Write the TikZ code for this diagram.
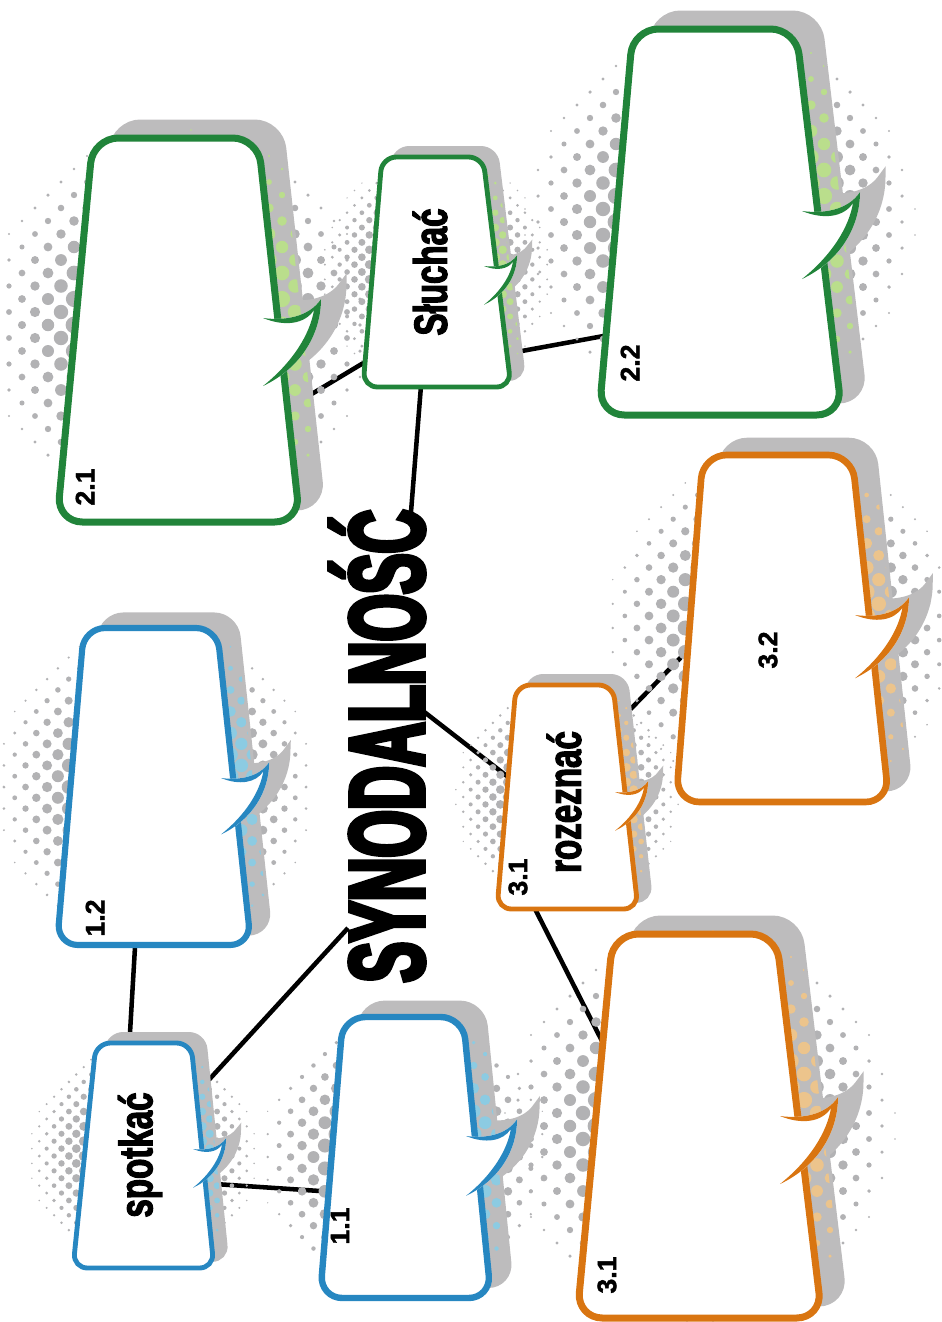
\documentclass[tikz,border=0pt]{standalone}
\usepackage{fontspec}
\setmainfont{Liberation Sans}
\newfontfamily\titlefont{Liberation Sans}[FakeStretch=0.57,FakeBold=4]
\newfontfamily\wordfont{Liberation Sans}[FakeStretch=0.71,FakeBold=2.5]
\newfontfamily\numfont{Liberation Sans}[FakeBold=1.5]

\definecolor{sgreen}{RGB}{33,132,58}
\definecolor{sblue}{RGB}{39,135,193}
\definecolor{sorange}{RGB}{217,117,17}
\definecolor{sgrey}{RGB}{189,188,189}
\definecolor{dgrey}{RGB}{178,178,180}
\definecolor{tgreen}{RGB}{186,222,140}
\definecolor{tblue}{RGB}{140,203,226}
\definecolor{torange}{RGB}{236,196,140}

\pgfdeclarelayer{lines}
\pgfdeclarelayer{dots}
\pgfdeclarelayer{shade}
\pgfdeclarelayer{tint}
\pgfsetlayers{lines,dots,shade,tint,main}

% outer edge of a speech tail, origin = inner end of the upper stroke
\def\tailout{(0,0) .. controls (22,3) and (46,-1) .. (58,-19) .. controls (58,16) and (38,50) .. (0,68)}

\tikzset{
  link/.style={line width=3.4pt},
  bubble/.style={fill=white},
  word/.style={rotate=90, inner sep=0pt, font=\wordfont\bfseries\fontsize{35}{35}\selectfont},
  headline/.style={rotate=90, inner sep=0pt, font=\titlefont\bfseries\fontsize{80}{80}\selectfont},
  num/.style={rotate=90, inner sep=0pt, font=\numfont\bfseries\fontsize{20}{20}\selectfont},
  pics/tail/.style={code={
    \fill[white] \tailout -- cycle;
    \fill[#1] \tailout .. controls (30,44) and (47,16) .. (51,-8) .. controls (42,6) and (22,9) .. (0,0) -- cycle;
  }},
  pics/tailshade/.style={code={\filldraw[sgrey, line width=\bbw pt] \tailout -- cycle;}},
}

% halftone disc: centre x, centre y, radius, step, largest dot, colour, first column (-1 or 0)
\newcommand{\halftone}[7]{%
  \pgfmathsetmacro\hts{#4}
  \pgfmathtruncatemacro\htn{#3/\hts}
  \pgfmathtruncatemacro\hti{#7*\htn}
  \foreach \i in {\hti,...,\htn}{
    \pgfmathtruncatemacro\ja{-\htn+mod(\i+\htn,2)}
    \pgfmathtruncatemacro\jb{\ja+2}
    \foreach \j in {\ja,\jb,...,\htn}{
      \pgfmathsetmacro\htd{veclen(\i*\hts,\j*\hts)}
      \ifdim\htd pt<#3pt
        \pgfmathsetmacro\htr{#5*(1-\htd/#3)}
        \ifdim\htr pt>0.7pt
          \fill[#6] ({#1+\i*\hts},{#2+\j*\hts}) circle[radius=\htr];
        \fi
      \fi
    }
  }
}

% bubble: colour, corners, tail point, size, halftone x, halftone y, halftone radius, tint
\newcommand{\bubble}[8]{%
  \pgfmathsetmacro\bbw{1.5+3.75*#4}
  \pgfmathsetmacro\bbr{19*#4}
  \begin{pgfonlayer}{dots}
    \halftone{#5}{#6}{#7}{13*#4}{17*#4}{dgrey}{-1}
  \end{pgfonlayer}
  \begin{pgfonlayer}{shade}
    \begin{scope}[shift={({22*#4},{-15*#4})}]
      \filldraw[sgrey, line width=\bbw pt, rounded corners=\bbr pt] #2 -- cycle;
      \pic[scale=#4] at #3 {tailshade};
    \end{scope}
  \end{pgfonlayer}
  \begin{pgfonlayer}{tint}
    \begin{scope}
      \clip[shift={({22*#4},{-15*#4})}, rounded corners=\bbr pt] #2 -- cycle;
      \halftone{#5}{#6}{#7}{13*#4}{17*#4}{#8}{0}
    \end{scope}
  \end{pgfonlayer}
  \draw[bubble, draw=#1, line width=\bbw pt, rounded corners=\bbr pt] #2 -- cycle;
  \pic[scale=#4] at #3 {tail=#1};
}

\begin{document}
\begin{tikzpicture}[x=0.75pt, y=-0.75pt]
\useasboundingbox (0,0) rectangle (942,1322);

% green group
\bubble{sgreen}{(93,138) -- (258,138) -- (300,522) -- (57,522)}{(263,318)}{1}{178}{325}{205}{tgreen}
\bubble{sgreen}{(382,157) -- (483,157) -- (511,387) -- (363,387)}{(484,266)}{0.57}{436}{272}{125}{tgreen}
\bubble{sgreen}{(633,29) -- (796,29) -- (842,415) -- (599,415)}{(802,211)}{1}{720}{222}{205}{tgreen}
% blue group
\bubble{sblue}{(84,628) -- (217,628) -- (251,945) -- (57,945)}{(221,778)}{0.83}{155}{787}{170}{tblue}
\bubble{sblue}{(96,1043) -- (191,1043) -- (214,1268) -- (73,1268)}{(193,1149)}{0.57}{143}{1156}{123}{tblue}
\bubble{sblue}{(343,1017) -- (463,1017) -- (491,1298) -- (320,1298)}{(466,1136)}{0.88}{405}{1157}{152}{tblue}
% orange group
\bubble{sorange}{(703,455) -- (852,455) -- (889,802) -- (676,802)}{(855,615)}{0.93}{782}{628}{185}{torange}
\bubble{sorange}{(516,685) -- (613,685) -- (638,909) -- (497,909)}{(615,792)}{0.57}{567}{797}{122}{torange}
\bubble{sorange}{(613,934) -- (776,934) -- (822,1318) -- (577,1318)}{(780,1116)}{1}{700}{1126}{205}{torange}

\node[word] (sluchac) at (430,272) {Słuchać};
\node[word] (spotkac) at (140,1155) {spotkać};
\node[word] (rozeznac) at (564,802) {rozeznać};
\node[headline] (synod) at (377,746) {SYNODALNOŚĆ};

\node[num] (n21) at (85,487) {2.1};
\node[num] (n22) at (630,363) {2.2};
\node[num] (n12) at (95,918) {1.2};
\node[num] (n11) at (340,1226) {1.1};
\node[num] (n32) at (768,650) {3.2};
\node[num] (n31a) at (518,877) {3.1};
\node[num] (n31) at (607,1275) {3.1};

% connector ends
\coordinate (b21-e) at (290,407);
\coordinate (sl-w) at (385,350);
\coordinate (sl-e) at (500,355);
\coordinate (b22-w) at (620,333);
\coordinate (sy-top) at (411,512);
\coordinate (sy-r) at (414,704);
\coordinate (rz-w) at (530,794);
\coordinate (rz-e) at (620,720);
\coordinate (b32-w) at (690,648);
\coordinate (rz-s) at (528,895);
\coordinate (b31-n) at (606,1049);
\coordinate (sy-bl) at (348,928);
\coordinate (sp-n) at (129,1050);
\coordinate (b12-s) at (136,930);
\coordinate (sp-e) at (200,1183);
\coordinate (b11-w) at (335,1192);

\begin{pgfonlayer}{lines}
\draw[link] (b21-e) -- (sl-w);
\draw[link] (sl-e) -- (b22-w);
\draw[link] (sluchac) -- (sy-top);
\draw[link] (sy-r) -- (rz-w);
\draw[link] (rz-e) -- (b32-w);
\draw[link] (rz-s) -- (b31-n);
\draw[link] (spotkac) -- (sy-bl);
\draw[link] (sp-n) -- (b12-s);
\draw[link] (sp-e) -- (b11-w);
\end{pgfonlayer}
\end{tikzpicture}
\end{document}
